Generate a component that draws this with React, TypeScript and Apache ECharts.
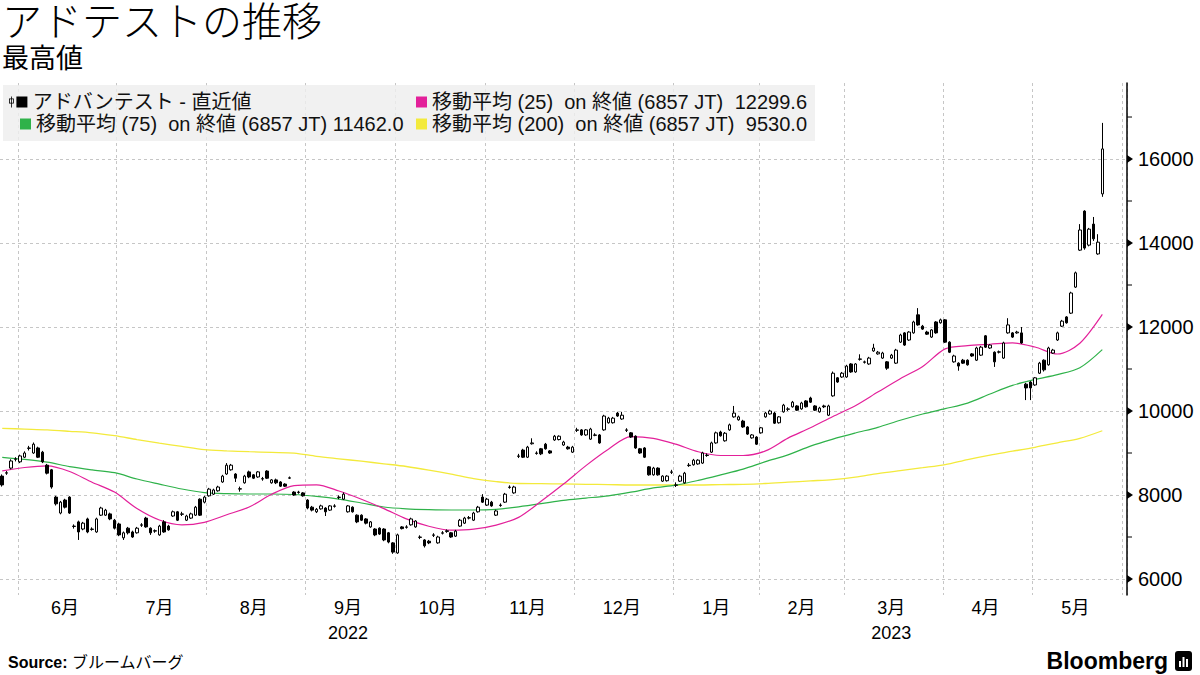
import React, { useEffect, useRef } from "react";
import * as echarts from "echarts";

// ---------- fonts / colours ----------
const FONT = "'Liberation Sans', 'Noto Sans CJK JP', sans-serif";
const MAGENTA = "#e3209a";
const GREEN = "#2fb24a";
const YELLOW = "#f3ea3c";
const GRID = "#c6c6c6";

// ---------- categories (Tokyo trading days) ----------
const firstDay = "2022-05-26";
const lastDay = "2023-06-01";
const marketHolidays = [
  "2022-07-18", "2022-08-11", "2022-09-19", "2022-09-23", "2022-10-10",
  "2022-11-03", "2022-11-23", "2023-01-02", "2023-01-03", "2023-01-09",
  "2023-02-23", "2023-03-21", "2023-05-03", "2023-05-04", "2023-05-05",
];
const yearLabels: Record<string, string> = { "2022-09": "2022", "2023-03": "2023" };

function buildTradingDays(start: string, end: string, closed: string[]): string[] {
  const out: string[] = [];
  const closedSet = new Set(closed);
  const d = new Date(start + "T00:00:00Z");
  const last = new Date(end + "T00:00:00Z");
  while (d.getTime() <= last.getTime()) {
    const wd = d.getUTCDay();
    const iso = d.toISOString().slice(0, 10);
    if (wd !== 0 && wd !== 6 && !closedSet.has(iso)) out.push(iso);
    d.setUTCDate(d.getUTCDate() + 1);
  }
  return out;
}
const categories = buildTradingDays(firstDay, lastDay, marketHolidays);

// ---------- price data ----------
const openPrices = [
  8450, 8520, 8640, 8850, 8790, 8900, 9110, 9000, 9120, 9020,
  8710, 8600, 7950, 7570, 7880, 7950, 7250, 7360, 7190, 7430,
  7180, 7120, 7520, 7520, 7550, 7400, 7310, 6980, 7210, 7120,
  7100, 7280, 7450, 7210, 7140, 7050, 7360, 7260, 7500, 7600,
  7540, 7400, 7450, 7520, 7900, 7830, 7980, 8020, 8100, 8310,
  8500, 8600, 8500, 8140, 8290, 8550, 8480, 8430, 8380, 8570,
  8290, 8360, 8310, 8260, 8400, 8070, 8060, 8050, 7880, 7710,
  7600, 7670, 7690, 7640, 7730, 7940, 7900, 7600, 7710, 7520,
  7520, 7430, 7240, 7190, 7210, 7190, 7100, 6860, 6620, 7240,
  7230, 7290, 7240, 6990, 6930, 6900, 7040, 6860, 7090, 7130,
  7100, 7020, 7260, 7330, 7450, 7400, 7600, 7950, 7760, 7830,
  7520, 7750, 7830, 8180, 8050, 8920, 9070, 8900, 9220, 8990,
  9100, 9210, 9050, 9310, 9320, 9190, 9140, 9020, 9540, 9550,
  9430, 9330, 9420, 9430, 9550, 9720, 9720, 9950, 9810, 9540,
  9480, 9400, 9100, 9120, 8670, 8480, 8640, 8330, 8340, 8540,
  8230, 8330, 8290, 8700, 8720, 8740, 8760, 8940, 9020, 9240,
  9500, 9290, 9550, 9860, 9790, 9760, 9620, 9360, 9380, 9480,
  9860, 9930, 9950, 9720, 9980, 10040, 10100, 10120, 10050, 10240,
  10310, 10120, 9980, 10120, 9900, 10360, 10790, 10810, 10810, 11120,
  10930, 11230, 11160, 11120, 11430, 11360, 11260, 11170, 11260, 11140,
  11640, 11860, 11690, 11860, 12290, 12020, 11880, 11760, 12120, 12100,
  12170, 11640, 11170, 11140, 11210, 11210, 11360, 11210, 11330, 11790,
  11500, 11400, 11400, 11260, 11860, 11860, 11860, 11860, 10640, 10690,
  10620, 10900, 11210, 11100, 11380, 11690, 12020, 12240, 12330, 12950,
  13830, 14760, 13950, 14450, 13740, 15170,
];
const highPrices = [
  8490, 8570, 8850, 8900, 8960, 9040, 9170, 9250, 9150, 9050,
  8740, 8620, 7980, 7860, 7910, 7970, 7300, 7390, 7360, 7460,
  7230, 7460, 7720, 7670, 7580, 7430, 7340, 7130, 7240, 7150,
  7240, 7330, 7480, 7230, 7180, 7290, 7400, 7290, 7630, 7620,
  7600, 7530, 7580, 7740, 7920, 7980, 8170, 8150, 8220, 8480,
  8760, 8740, 8520, 8200, 8480, 8580, 8500, 8570, 8430, 8590,
  8380, 8390, 8330, 8280, 8440, 8090, 8100, 8070, 7900, 7740,
  7690, 7770, 7710, 7760, 7780, 7990, 8060, 7760, 7730, 7540,
  7540, 7450, 7380, 7210, 7230, 7210, 7120, 6880, 7080, 7260,
  7280, 7460, 7400, 7040, 6950, 6930, 7090, 7030, 7140, 7180,
  7120, 7170, 7430, 7480, 7500, 7600, 7740, 8020, 7930, 7860,
  7650, 7800, 8050, 8230, 8220, 8980, 9100, 9170, 9350, 9040,
  9120, 9240, 9070, 9430, 9420, 9290, 9170, 9170, 9600, 9570,
  9570, 9600, 9470, 9450, 9910, 9860, 9860, 9980, 9980, 9590,
  9500, 9420, 9120, 9140, 8690, 8670, 8660, 8470, 8470, 8600,
  8300, 8480, 8550, 8760, 8860, 8850, 9030, 8990, 9270, 9510,
  9530, 9500, 9700, 10120, 9890, 9790, 9640, 9450, 9400, 9620,
  9980, 10030, 9980, 9880, 10170, 10090, 10240, 10140, 10220, 10260,
  10340, 10140, 10100, 10150, 10150, 10940, 10810, 10930, 11100, 11140,
  11140, 11350, 11200, 11290, 11600, 11430, 11410, 11190, 11360, 11480,
  11840, 11880, 11900, 12150, 12450, 12050, 11910, 11950, 12140, 12200,
  12190, 11660, 11340, 11160, 11240, 11230, 11380, 11530, 11550, 11810,
  11590, 11420, 11440, 11650, 12210, 11880, 11910, 12000, 10670, 10710,
  10810, 11170, 11230, 11530, 11480, 11890, 12170, 12260, 12840, 13320,
  14450, 14780, 14360, 14620, 14210, 16860,
];
const lowPrices = [
  8200, 8480, 8610, 8800, 8760, 8880, 9060, 8980, 8880, 8760,
  8490, 8150, 7750, 7540, 7680, 7550, 7200, 6930, 7160, 7090,
  7150, 7100, 7500, 7500, 7400, 7180, 7020, 6930, 7060, 6980,
  7080, 7240, 7220, 7050, 7100, 7030, 7100, 7150, 7480, 7380,
  7500, 7380, 7430, 7500, 7500, 7800, 7960, 8000, 8080, 8290,
  8480, 8580, 8310, 8080, 8270, 8400, 8380, 8410, 8340, 8380,
  8270, 8260, 8190, 8190, 8380, 7980, 8030, 7960, 7660, 7610,
  7570, 7650, 7500, 7620, 7700, 7900, 7880, 7580, 7580, 7330,
  7380, 7300, 7220, 7020, 7050, 6900, 6850, 6600, 6600, 7180,
  7200, 7270, 7220, 6950, 6750, 6830, 7000, 6840, 7060, 7100,
  6980, 7000, 7240, 7310, 7420, 7380, 7580, 7810, 7740, 7720,
  7500, 7720, 7810, 8150, 8030, 8880, 8880, 8880, 9200, 8960,
  8950, 9080, 8980, 9290, 9300, 9170, 9080, 9000, 9500, 9410,
  9410, 9310, 9400, 9220, 9530, 9700, 9700, 9860, 9790, 9500,
  9360, 9100, 8980, 8880, 8460, 8460, 8460, 8310, 8320, 8500,
  8190, 8310, 8270, 8670, 8700, 8720, 8740, 8910, 9000, 9220,
  9390, 9270, 9530, 9840, 9770, 9600, 9430, 9340, 9190, 9460,
  9840, 9910, 9690, 9700, 9960, 10000, 10080, 10000, 10030, 10080,
  10190, 10000, 9960, 10070, 9880, 10340, 10670, 10790, 10790, 10910,
  10910, 11200, 11130, 11100, 11410, 11340, 11240, 10980, 11240, 11120,
  11620, 11550, 11670, 11840, 12030, 11930, 11810, 11740, 11840, 12080,
  11620, 11380, 11150, 10960, 11120, 11080, 11290, 11190, 11310, 11500,
  11480, 11050, 11370, 11240, 11840, 11740, 11840, 11600, 10260, 10260,
  10600, 10880, 10940, 11080, 11360, 11670, 12000, 12080, 12310, 12930,
  13810, 13840, 13920, 14050, 13720, 15100,
];
const closePrices = [
  8240, 8530, 8810, 8860, 8930, 9000, 9120, 9210, 8900, 8790,
  8520, 8190, 7790, 7830, 7710, 7570, 7260, 7120, 7330, 7120,
  7190, 7430, 7690, 7640, 7430, 7210, 7050, 7100, 7100, 7000,
  7210, 7290, 7240, 7100, 7150, 7260, 7120, 7170, 7600, 7400,
  7550, 7500, 7550, 7710, 7520, 7950, 8140, 8120, 8190, 8450,
  8710, 8710, 8400, 8150, 8450, 8430, 8400, 8550, 8390, 8400,
  8360, 8290, 8210, 8210, 8410, 8000, 8070, 7980, 7690, 7640,
  7660, 7740, 7600, 7740, 7740, 7950, 8020, 7740, 7600, 7360,
  7400, 7330, 7360, 7050, 7070, 6930, 6880, 6640, 7050, 7200,
  7240, 7430, 7380, 7000, 6790, 6860, 7050, 7000, 7100, 7150,
  7000, 7140, 7400, 7450, 7460, 7570, 7710, 7830, 7900, 7740,
  7620, 7760, 8020, 8190, 8190, 8930, 8900, 9140, 9240, 9000,
  8980, 9100, 9000, 9400, 9400, 9260, 9100, 9140, 9550, 9430,
  9550, 9570, 9430, 9240, 9880, 9830, 9830, 9880, 9900, 9550,
  9380, 9120, 9000, 8900, 8480, 8640, 8480, 8450, 8450, 8550,
  8240, 8450, 8520, 8710, 8830, 8830, 9000, 8950, 9240, 9480,
  9410, 9470, 9670, 9950, 9860, 9620, 9450, 9430, 9210, 9600,
  9950, 10000, 9710, 9860, 10140, 10050, 10210, 10020, 10190, 10100,
  10210, 10020, 10070, 10100, 10120, 10900, 10690, 10900, 11070, 10930,
  11120, 11240, 11170, 11260, 11500, 11400, 11380, 11020, 11330, 11450,
  11810, 11570, 11880, 12120, 12050, 11950, 11830, 11930, 11860, 12170,
  11640, 11400, 11310, 11070, 11140, 11100, 11310, 11500, 11520, 11520,
  11570, 11170, 11410, 11620, 12050, 11760, 11880, 11620, 10550, 10550,
  10790, 11140, 10980, 11500, 11450, 11860, 12140, 12100, 12810, 13290,
  14310, 13880, 14330, 14100, 14020, 16240,
];

// ---------- moving averages, read at every 5th trading day ----------
const maSampleIndex = [
  0, 5, 10, 15, 20, 25, 30, 35, 40, 45, 50, 55, 60, 65, 70, 75, 80, 85, 90, 95,
  100, 105, 110, 115, 120, 125, 130, 135, 140, 145, 150, 155, 160, 165, 170, 175,
  180, 185, 190, 195, 200, 205, 210, 215, 220, 225, 230, 235, 240, 245,
];
const ma25 = [
  8575, 8655, 8693, 8560, 8305, 8069, 7679, 7405, 7290, 7350,
  7531, 7714, 8017, 8225, 8243, 8095, 7900, 7676, 7431, 7255,
  7162, 7186, 7283, 7467, 7850, 8260, 8700, 9090, 9390, 9350,
  9210, 9030, 8940, 8940, 9050, 9355, 9600, 9870, 10126, 10450,
  10770, 11060, 11480, 11557, 11590, 11624, 11524, 11357, 11612, 12300,
];
const ma75 = [
  8898, 8848, 8781, 8676, 8598, 8531, 8381, 8259, 8143, 8057,
  8031, 8024, 8024, 8012, 7967, 7902, 7810, 7714, 7671, 7652,
  7643, 7643, 7660, 7719, 7793, 7874, 7926, 7981, 8067, 8169,
  8236, 8348, 8479, 8617, 8795, 8955, 9164, 9331, 9476, 9612,
  9780, 9929, 10055, 10188, 10405, 10610, 10752, 10867, 11031, 11462,
];
const ma200 = [
  9588, 9569, 9550, 9517, 9481, 9412, 9321, 9236, 9157, 9081,
  9052, 9031, 9014, 8998, 8921, 8862, 8805, 8743, 8679, 8593,
  8495, 8388, 8319, 8274, 8270, 8264, 8255, 8248, 8238, 8238,
  8238, 8238, 8248, 8255, 8274, 8305, 8336, 8367, 8426, 8510,
  8581, 8650, 8724, 8845, 8952, 9043, 9136, 9243, 9350, 9530,
];

// ---------- texts ----------
const TITLE = "アドテストの推移";
const SUBTITLE = "最高値";
const CANDLE_NAME = "アドバンテスト - 直近値";
const MA25_NAME = "移動平均 (25)  on 終値 (6857 JT)";
const MA75_NAME = "移動平均 (75)  on 終値 (6857 JT)";
const MA200_NAME = "移動平均 (200)  on 終値 (6857 JT)";
const MA25_LAST = "12299.6";
const MA75_LAST = "11462.0";
const MA200_LAST = "9530.0";

const yLabelValues = [6000, 8000, 10000, 12000, 14000, 16000];
const yMinorValues = [7000, 9000, 11000, 13000, 15000, 17000];
const Y_MIN = 5619;
const Y_MAX = 17810;

// ---------- layout ----------
const GRID_LEFT = 0;
const GRID_RIGHT = 73; // axis line at x = 1127
const GRID_TOP = 83;
const GRID_BOTTOM = 80;
const AXIS_X = 1200 - GRID_RIGHT;
const LEGEND_FONT = 20;

const CANDLE_ICON =
  "path://M2.6,0H3.4V11H2.6Z M0.6,2H5.4V2.8H0.6Z M0.6,6.2H5.4V7H0.6Z M0.6,2H1.4V7H0.6Z M4.6,2H5.4V7H4.6Z M8,0H19V11H8Z";

// month grouping for grid lines and labels
const monthGroups: { key: string; first: number; count: number }[] = [];
categories.forEach((c, i) => {
  const k = c.slice(0, 7);
  const g = monthGroups[monthGroups.length - 1];
  if (g && g.key === k) g.count += 1;
  else monthGroups.push({ key: k, first: i, count: 1 });
});
const monthStartIdx = new Set(monthGroups.slice(1).map((g) => g.first));
const labelAt = new Map<number, string>();
monthGroups.forEach((g) => {
  if (g.count >= 15) {
    const m = Number(g.key.slice(5));
    const yr = yearLabels[g.key];
    labelAt.set(g.first + Math.floor((g.count - 1) / 2), yr ? `${m}月\n${yr}` : `${m}月`);
  }
});

function legendFor(
  name: string,
  value: string | null,
  left: number,
  top: number,
  color: string,
  nameWidth: number | null,
  icon: string,
  iw: number
) {
  let formatter: (n: string) => string;
  if (value === null) formatter = (n: string) => n;
  else if (nameWidth === null) formatter = (n: string) => `${n} ${value}`;
  else formatter = (n: string) => `{n|${n}}{v|${value}}`;
  return {
    data: [{ name, icon, itemStyle: { color, borderWidth: 0 } }],
    left,
    top,
    padding: 0,
    itemWidth: iw,
    itemHeight: 11,
    selectedMode: false,
    z: 6,
    formatter,
    textStyle: {
      fontFamily: FONT,
      fontSize: LEGEND_FONT,
      color: "#111",
      lineHeight: 22,
      rich: {
        n: { fontFamily: FONT, fontSize: LEGEND_FONT, color: "#111", width: nameWidth || 0 },
        v: { fontFamily: FONT, fontSize: LEGEND_FONT, color: "#111", width: 74, align: "right" },
      },
    },
  };
}

export default function App() {
  const ref = useRef<HTMLDivElement>(null);

  useEffect(() => {
    if (!ref.current) return;
    const chart = echarts.init(ref.current, null, { renderer: "svg", width: 1200, height: 675 });

    const candleData = openPrices.map((o, i) => [o, closePrices[i], lowPrices[i], highPrices[i]]);
    const toLine = (vals: number[]) => maSampleIndex.map((idx, k) => [idx, vals[k]]);

    chart.setOption({
      animation: false,
      backgroundColor: "#ffffff",
      textStyle: { fontFamily: FONT },
      grid: { left: GRID_LEFT, right: GRID_RIGHT, top: GRID_TOP, bottom: GRID_BOTTOM, containLabel: false },
      legend: [
        legendFor(CANDLE_NAME, null, 9, 91, "#000", null, CANDLE_ICON, 19),
        legendFor(MA75_NAME, MA75_LAST, 20, 113, GREEN, null, "rect", 11),
        legendFor(MA25_NAME, MA25_LAST, 416, 91, MAGENTA, 301, "rect", 11),
        legendFor(MA200_NAME, MA200_LAST, 416, 113, YELLOW, 301, "rect", 11),
      ],
      xAxis: {
        type: "category",
        data: categories,
        boundaryGap: true,
        axisLine: { show: false },
        axisTick: { show: false },
        axisLabel: {
          interval: (idx: number) => labelAt.has(idx),
          formatter: (_v: string, idx: number) => labelAt.get(idx) || "",
          fontFamily: FONT,
          fontSize: 18,
          lineHeight: 25,
          margin: 0,
          color: "#000",
        },
        splitLine: {
          show: true,
          interval: (idx: number) => monthStartIdx.has(idx),
          lineStyle: { color: GRID, type: [3, 3], width: 1 },
        },
      },
      yAxis: {
        type: "value",
        position: "right",
        min: Y_MIN,
        max: Y_MAX,
        splitNumber: 6,
        axisLine: { show: true, lineStyle: { color: "#000", width: 1.5 } },
        axisTick: { show: false },
        axisLabel: {
          showMinLabel: false,
          showMaxLabel: false,
          formatter: (v: number) => String(v),
          fontFamily: FONT,
          fontSize: 20,
          color: "#000",
          margin: 11,
        },
        splitLine: {
          show: true,
          showMinLine: false,
          showMaxLine: false,
          lineStyle: { color: GRID, type: [3, 3], width: 1 },
        },
      },
      series: [
        {
          name: MA200_NAME,
          type: "line",
          data: toLine(ma200),
          color: YELLOW,
          showSymbol: false,
          smooth: 0.3,
          lineStyle: { color: YELLOW, width: 1.3 },
          z: 2,
        },
        {
          name: MA75_NAME,
          type: "line",
          data: toLine(ma75),
          color: GREEN,
          showSymbol: false,
          smooth: 0.3,
          lineStyle: { color: GREEN, width: 1.2 },
          z: 2,
        },
        {
          name: MA25_NAME,
          type: "line",
          data: toLine(ma25),
          color: MAGENTA,
          showSymbol: false,
          smooth: 0.3,
          lineStyle: { color: MAGENTA, width: 1.2 },
          z: 2,
        },
        {
          name: CANDLE_NAME,
          type: "candlestick",
          data: candleData,
          barWidth: 3,
          itemStyle: {
            color: "#ffffff",
            color0: "#000000",
            borderColor: "#000000",
            borderColor0: "#000000",
            borderColorDoji: "#000000",
            borderWidth: 1,
          },
          z: 3,
        },
      ],
    });

    // axis tick decorations placed through the y scale
    const marks: any[] = [];
    yLabelValues.forEach((v, i) => {
      const py = chart.convertToPixel({ yAxisIndex: 0 }, v) as number;
      marks.push({
        type: "polygon",
        id: "tri" + i,
        silent: true,
        z: 10,
        shape: { points: [[AXIS_X, py - 4], [AXIS_X + 6, py], [AXIS_X, py + 4]] },
        style: { fill: "#000" },
      });
    });
    yMinorValues.forEach((v, i) => {
      const py = chart.convertToPixel({ yAxisIndex: 0 }, v) as number;
      marks.push({
        type: "line",
        id: "minor" + i,
        silent: true,
        z: 10,
        shape: { x1: AXIS_X, y1: py, x2: AXIS_X + 5, y2: py },
        style: { stroke: "#000", lineWidth: 1 },
      });
    });

    chart.setOption({
      graphic: [
        {
          type: "rect",
          id: "legendBg",
          silent: true,
          z: 4,
          shape: { x: 3, y: 85, width: 812, height: 56 },
          style: { fill: "rgba(238,238,238,0.82)" },
        },
        {
          type: "text",
          id: "title",
          x: 2,
          y: 42,
          style: {
            text: TITLE,
            fontFamily: FONT,
            fontSize: 40,
            fontWeight: 300,
            fill: "#000",
            verticalAlign: "bottom",
            textVerticalAlign: "bottom",
          },
        },
        {
          type: "text",
          id: "subtitle",
          x: 2,
          y: 72,
          style: {
            text: SUBTITLE,
            fontFamily: FONT,
            fontSize: 27,
            fill: "#000",
            verticalAlign: "bottom",
            textVerticalAlign: "bottom",
          },
        },
        {
          type: "text",
          id: "source",
          x: 8,
          y: 662,
          style: {
            text: "{b|Source:} ブルームバーグ",
            fontFamily: FONT,
            fontSize: 16,
            fill: "#000",
            verticalAlign: "middle",
            textVerticalAlign: "middle",
            rich: { b: { fontFamily: FONT, fontSize: 16, fontWeight: "bold", fill: "#000", color: "#000" } },
          },
        },
        {
          type: "text",
          id: "brand",
          x: 1168,
          y: 661,
          style: {
            text: "Bloomberg",
            fontFamily: "'Liberation Sans Narrow', 'Liberation Sans', sans-serif",
            fontSize: 23,
            fontWeight: "bold",
            fill: "#000",
            align: "right",
            textAlign: "right",
            verticalAlign: "middle",
            textVerticalAlign: "middle",
          },
        },
        {
          type: "rect",
          id: "brandIcon",
          silent: true,
          shape: { x: 1175, y: 651, width: 17, height: 20, r: 3 },
          style: { fill: "#000" },
        },
        { type: "rect", id: "bar1", silent: true, z: 11, shape: { x: 1179, y: 661, width: 2, height: 6 }, style: { fill: "#fff" } },
        { type: "rect", id: "bar2", silent: true, z: 11, shape: { x: 1182.5, y: 657, width: 2, height: 10 }, style: { fill: "#fff" } },
        { type: "rect", id: "bar3", silent: true, z: 11, shape: { x: 1186, y: 659, width: 2, height: 8 }, style: { fill: "#fff" } },
        ...marks,
      ],
    });

    return () => {
      chart.dispose();
    };
  }, []);

  return (
    <div
      ref={ref}
      style={{ position: "fixed", left: 0, top: 0, width: 1200, height: 675, background: "#fff" }}
    />
  );
}
